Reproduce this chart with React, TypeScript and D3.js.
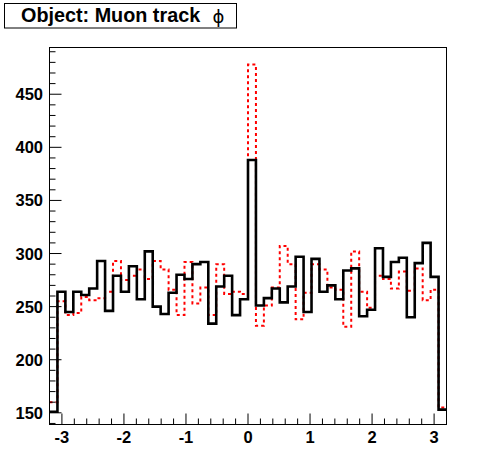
import * as d3 from "d3";

// phi binning: 50 bins on [-3.2, 3.2]
const xMin = -3.2;
const xMax = 3.2;
const nBins = 50;

// black solid histogram
const blackCounts = [
  151, 264, 245, 264, 261, 267, 293, 246, 279, 264,
  288, 257, 302, 250, 243, 263, 280, 276, 290, 292,
  234, 269, 279, 242, 257, 388, 251, 258, 267, 254,
  269, 297, 245, 295, 264, 270, 257, 284, 286, 241,
  247, 305, 278, 292, 296, 240, 291, 310, 278, 153,
];

// red dotted histogram
const redCounts = [
  160, 255, 242, 244, 259, 256, 258, 264, 293, 275,
  279, 285, 276, 293, 285, 266, 242, 292, 253, 268,
  242, 290, 262, 264, 262, 478, 232, 251, 268, 307,
  290, 238, 263, 290, 285, 268, 266, 231, 302, 264,
  249, 279, 276, 267, 283, 265, 286, 256, 266, 155,
];

const yTicks = [150, 200, 250, 300, 350, 400, 450];
const xTicks = [-3, -2, -1, 0, 1, 2, 3];
const title = "Object: Muon track";

const W = 496;
const H = 472;
const frame = { left: 49.5, right: 446.5, top: 47.5, bottom: 424.5 };
const font = "'Liberation Sans', Arial, Helvetica, sans-serif";

export default function App() {
  const x = d3.scaleLinear().domain([xMin, xMax]).range([frame.left, frame.right]);
  const y = d3.scaleLinear().domain([139, 494]).range([frame.bottom, frame.top]);
  const binW = (xMax - xMin) / nBins;

  const toPoints = (counts: number[]) => {
    const pts: [number, number][] = counts.map((c, i) => [xMin + i * binW, c]);
    pts.push([xMax, counts[counts.length - 1]]);
    return pts;
  };

  const line = d3
    .line<[number, number]>()
    .x((d) => x(d[0]))
    .y((d) => y(d[1]))
    .curve(d3.curveStepAfter);

  const yMinor = d3.range(140, 495, 10).filter((v) => v % 50 !== 0);
  const xMinor = d3.range(-3.2, 3.21, 0.2).filter((v) => Math.abs(v - Math.round(v)) > 0.01);

  return (
    <svg
      width={W}
      height={H}
      style={{ position: "absolute", left: 0, top: 0, background: "#fff" }}
    >
      <rect x={0} y={0} width={W} height={H} fill="#fff" />

      {/* title box */}
      <rect x={4.5} y={3.5} width={232} height={24.5} fill="#fff" stroke="#000" />
      <text x={21} y={22} fontFamily={font} fontWeight="bold" fontSize={19.8}>
        {title}
      </text>
      <text x={212.5} y={22.5} fontFamily="'DejaVu Sans', sans-serif" fontSize={18}>
        ϕ
      </text>

      {/* histograms */}
      <path
        d={line(toPoints(redCounts)) ?? ""}
        fill="none"
        stroke="#ff0000"
        strokeWidth={2}
        strokeDasharray="3 3"
      />
      <path
        d={line(toPoints(blackCounts)) ?? ""}
        fill="none"
        stroke="#000"
        strokeWidth={2.6}
      />

      {/* frame */}
      <rect
        x={frame.left}
        y={frame.top}
        width={frame.right - frame.left}
        height={frame.bottom - frame.top}
        fill="none"
        stroke="#000"
      />

      {/* y axis */}
      {yTicks.map((t) => (
        <g key={"y" + t}>
          <line x1={frame.left} x2={frame.left + 12} y1={y(t)} y2={y(t)} stroke="#000" />
          <text
            x={43}
            y={y(t) + 6}
            textAnchor="end"
            fontFamily={font}
            fontWeight="bold"
            fontSize={16.5}
          >
            {t}
          </text>
        </g>
      ))}
      {yMinor.map((t) => (
        <line key={"ym" + t} x1={frame.left} x2={frame.left + 6} y1={y(t)} y2={y(t)} stroke="#000" />
      ))}

      {/* x axis */}
      {xTicks.map((t) => (
        <g key={"x" + t}>
          <line x1={x(t)} x2={x(t)} y1={frame.bottom} y2={frame.bottom - 11} stroke="#000" />
          <text
            x={x(t)}
            y={443}
            textAnchor="middle"
            fontFamily={font}
            fontWeight="bold"
            fontSize={16.5}
          >
            {t}
          </text>
        </g>
      ))}
      {xMinor.map((t) => (
        <line key={"xm" + t} x1={x(t)} x2={x(t)} y1={frame.bottom} y2={frame.bottom - 6} stroke="#000" />
      ))}
    </svg>
  );
}
